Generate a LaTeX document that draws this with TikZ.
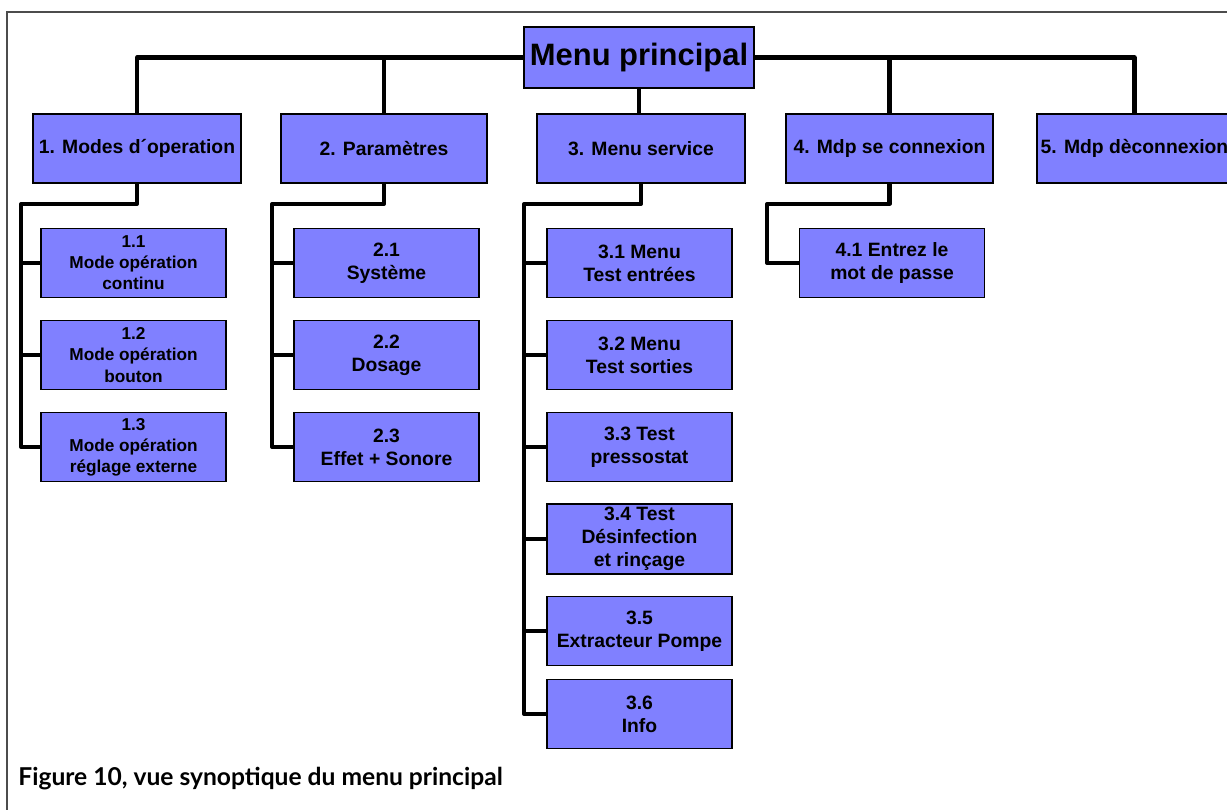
\documentclass[tikz,border=0pt]{standalone}
\usepackage{fontspec}
\setmainfont{Liberation Sans}
\newfontfamily\capfont{Lato}
\definecolor{boxblue}{RGB}{128,128,255}
\tikzset{
  box/.style={draw=black, line width=1.1pt, fill=boxblue, align=center, inner sep=2pt},
  topbox/.style={box, minimum height=1.38cm, font=\bfseries\fontsize{11}{13}\selectfont},
  subbox/.style={box, minimum width=3.7cm, minimum height=1.38cm, font=\bfseries\fontsize{11}{13}\selectfont},
  smallsub/.style={subbox, font=\bfseries\fontsize{9.8}{12}\selectfont},
  link/.style={line width=2.3pt, line join=round},
}

\begin{document}
\begin{tikzpicture}[x=0.02cm,y=-0.02cm]
\useasboundingbox (0,0) rectangle (1227,810);
\draw[gray!60!black, line width=0.6pt] (7,810) |- (1227,12);
% main menu
\node[box, minimum width=4.6cm, minimum height=1.22cm, font=\bfseries\fontsize{17.6}{20}\selectfont] (main) at (639,57.5) {Menu principal};
% level 1
\node[topbox, minimum width=4.16cm] (m1) at (137,148.5) {1. Modes d´operation};
\node[topbox, minimum width=4.12cm] (m2) at (384,148.5) {2. Paramètres};
\node[topbox, minimum width=4.16cm] (m3) at (641,148.5) {3. Menu service};
\node[topbox, minimum width=4.14cm] (m4) at (889.5,148.5) {4. Mdp se connexion};
\node[topbox, minimum width=3.66cm] (m5) at (1134.5,148.5) {5. Mdp dèconnexion};
% sub menus 1
\node[smallsub] (s11) at (133.5,263) {1.1\\Mode opération\\continu};
\node[smallsub] (s12) at (133.5,355) {1.2\\Mode opération\\bouton};
\node[smallsub] (s13) at (133.5,447) {1.3\\Mode opération\\réglage externe};
% sub menus 2
\node[subbox] (s21) at (386.5,263) {2.1\\Système};
\node[subbox] (s22) at (386.5,355) {2.2\\Dosage};
\node[subbox] (s23) at (386.5,447) {2.3\\Effet + Sonore};
% sub menus 3
\node[subbox] (s31) at (639.5,263) {3.1 Menu\\Test entrées};
\node[subbox] (s32) at (639.5,355) {3.2 Menu\\Test sorties};
\node[subbox] (s33) at (639.5,447) {3.3 Test\\pressostat};
\node[subbox] (s34) at (639.5,539) {3.4 Test\\Désinfection\\et rinçage};
\node[subbox] (s35) at (639.5,631) {3.5\\Extracteur Pompe};
\node[subbox] (s36) at (639.5,714) {3.6\\Info};
% sub menu 4
\node[subbox] (s41) at (892,263) {4.1 Entrez le\\mot de passe};
% bus corners
\coordinate (k1) at (21,204);
\coordinate (k2) at (272,204);
\coordinate (k3) at (524,204);
\coordinate (k4) at (767,204);
% top level links
\draw[link] (main.west) -| (m1.north);
\draw[link] (main.east) -| (m5.north);
\draw[link] (m2.north) -- (m2.north |- main.west);
\draw[link] (m4.north) -- (m4.north |- main.east);
\draw[link] (main.south) -- (main.south |- m3.north);
% links 1
\draw[link] (m1.south) |- (k1) |- (s13.west);
\draw[link] (s11.west) -- (s11.west -| k1);
\draw[link] (s12.west) -- (s12.west -| k1);
% links 2
\draw[link] (m2.south) |- (k2) |- (s23.west);
\draw[link] (s21.west) -- (s21.west -| k2);
\draw[link] (s22.west) -- (s22.west -| k2);
% links 3
\draw[link] (m3.south) |- (k3) |- (s36.west);
\draw[link] (s31.west) -- (s31.west -| k3);
\draw[link] (s32.west) -- (s32.west -| k3);
\draw[link] (s33.west) -- (s33.west -| k3);
\draw[link] (s34.west) -- (s34.west -| k3);
\draw[link] (s35.west) -- (s35.west -| k3);
% links 4
\draw[link] (m4.south) |- (k4) |- (s41.west);
% caption
\node[anchor=west, inner sep=0pt, font=\capfont\bfseries\fontsize{14}{16}\selectfont] (cap) at (18,779) {Figure 10, vue synoptique du menu principal};
\end{tikzpicture}
\end{document}
